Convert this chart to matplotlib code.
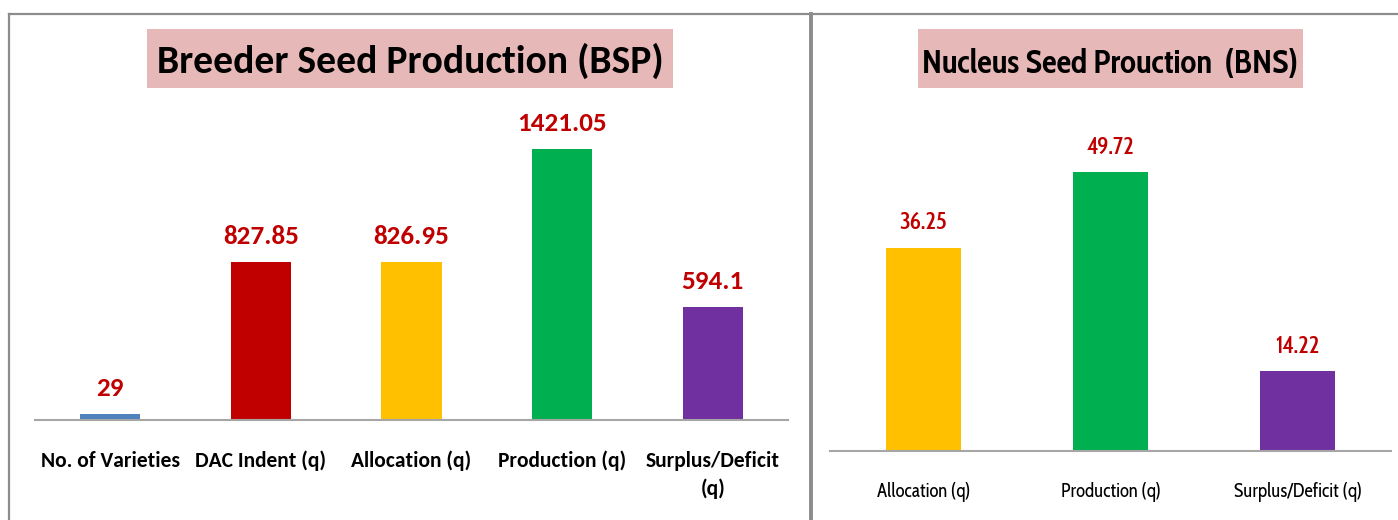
import matplotlib.pyplot as plt
from matplotlib.patches import Rectangle
from matplotlib.lines import Line2D

# data
bsp_cats = ['No. of Varieties', 'DAC Indent (q)', 'Allocation (q)', 'Production (q)', 'Surplus/Deficit\n(q)']
bsp_vals = [29, 827.85, 826.95, 1421.05, 594.1]
bsp_colors = ['#4F81BD', '#C00000', '#FFC000', '#00B050', '#7030A0']

bns_cats = ['Allocation (q)', 'Production (q)', 'Surplus/Deficit (q)']
bns_vals = [36.25, 49.72, 14.22]
bns_colors = ['#FFC000', '#00B050', '#7030A0']

calibri = ['Carlito', 'DejaVu Sans']
cond = ['Cabin Condensed', 'Carlito', 'DejaVu Sans']
W, H = 1398, 520

fig = plt.figure(figsize=(W / 100, H / 100), dpi=100)
fig.patch.set_facecolor('white')

def fx(px):
    return px / W

def fy(py):
    return 1 - py / H

# panel borders
border = '#8C8C8C'
fig.add_artist(Line2D([fx(9), fx(1400)], [fy(14), fy(14)], color=border, lw=1.6))
fig.add_artist(Line2D([fx(9), fx(9)], [fy(14), fy(530)], color=border, lw=1.6))
fig.add_artist(Line2D([fx(811), fx(811)], [fy(14), fy(530)], color=border, lw=2.8))

# title boxes
fig.add_artist(Rectangle((fx(147), fy(88)), fx(673) - fx(147), fy(29) - fy(88),
                         transform=fig.transFigure, fc='#E6B8B7', ec='none'))
fig.add_artist(Rectangle((fx(918), fy(88)), fx(1303) - fx(918), fy(29) - fy(88),
                         transform=fig.transFigure, fc='#E6B8B7', ec='none'))
fig.text(fx(410), fy(73), 'Breeder Seed Production (BSP)', ha='center', va='baseline',
         fontsize=28.5, fontweight='bold', family=calibri)
fig.text(fx(1110), fy(73), 'Nucleus Seed Prouction  (BNS)', ha='center', va='baseline',
         fontsize=23.5, fontweight='bold', family=cond)

# left chart
ax1 = fig.add_axes([fx(35), fy(420), fx(788) - fx(35), fy(100) - fy(420)])
ax1.bar(range(len(bsp_vals)), bsp_vals, width=0.4, color=bsp_colors)
ax1.set_xlim(-0.5, len(bsp_vals) - 0.5)
ax1.set_ylim(0, 1678)
for i, v in enumerate(bsp_vals):
    ax1.annotate(f'{v:g}', (i, v), xytext=(0, 13), textcoords='offset points',
                 ha='center', va='baseline', color='#C00000', fontsize=19.5,
                 fontweight='bold', family=calibri)
ax1.set_xticks(range(len(bsp_cats)))
ax1.set_xticklabels(bsp_cats, fontsize=15.5, fontweight='bold', family=calibri, linespacing=1.45)
ax1.tick_params(axis='x', length=0, pad=22)
ax1.set_yticks([])

# right chart
ax2 = fig.add_axes([fx(830), fy(451), fx(1391) - fx(830), fy(100) - fy(451)])
ax2.bar(range(len(bns_vals)), bns_vals, width=0.4, color=bns_colors)
ax2.set_xlim(-0.5, len(bns_vals) - 0.5)
ax2.set_ylim(0, 62.6)
for i, v in enumerate(bns_vals):
    ax2.annotate(f'{v:g}', (i, v), xytext=(0, 13.5), textcoords='offset points',
                 ha='center', va='baseline', color='#C00000', fontsize=17,
                 fontweight='medium', family=cond)
ax2.set_xticks(range(len(bns_cats)))
ax2.set_xticklabels(bns_cats, fontsize=13.5, family=cond)
ax2.tick_params(axis='x', length=0, pad=22)
ax2.set_yticks([])

for ax in (ax1, ax2):
    for s in ('top', 'right', 'left'):
        ax.spines[s].set_visible(False)
    ax.spines['bottom'].set_color('#A6A6A6')
    ax.spines['bottom'].set_linewidth(1.5)
    ax.patch.set_alpha(0)

fig.savefig('out.png', dpi=100)
